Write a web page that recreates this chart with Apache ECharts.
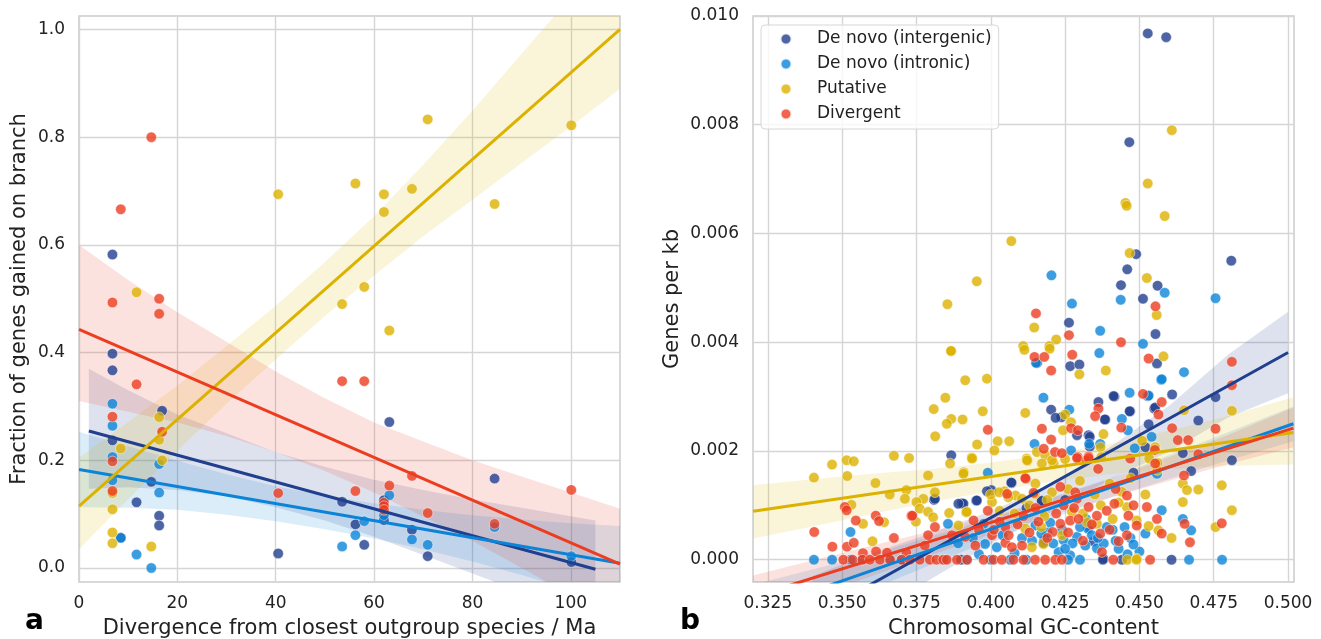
<!DOCTYPE html>
<html><head><meta charset="utf-8">
<script src="https://cdn.jsdelivr.net/npm/echarts@6/dist/echarts.min.js"></script>
<style>html,body{margin:0;padding:0;background:#fff}#c{width:1321px;height:639px}</style>
</head><body><div id="c"></div>
<script>
// ---------- tick labels ----------
const L_XTICKS = [0, 20, 40, 60, 80, 100];
const L_YTICKS = [0, 0.2, 0.4, 0.6, 0.8, 1.0];
const R_XTICKS = [0.325, 0.35, 0.375, 0.4, 0.425, 0.45, 0.475, 0.5];
const R_YTICKS = [0, 0.002, 0.004, 0.006, 0.008, 0.010];
const NAMES = ['De novo (intergenic)', 'De novo (intronic)', 'Putative', 'Divergent'];

// ---------- panel a: scatter values [Ma, fraction] ----------
const A_INTERGENIC = [[6.8,0.582],[6.8,0.398],[6.8,0.367],[6.8,0.237],[14.7,0.160],[11.7,0.122],[8.5,0.056],[16.3,0.097],[16.3,0.079],[16.9,0.292],[40.5,0.027],[53.5,0.123],[56.2,0.081],[58.0,0.043],[63.1,0.271],[62.0,0.126],[62.0,0.089],[67.7,0.071],[70.9,0.022],[84.5,0.166],[100.1,0.011]];
const A_INTRONIC = [[6.8,0.305],[6.8,0.264],[6.8,0.206],[6.8,0.163],[16.3,0.193],[16.3,0.140],[8.5,0.056],[11.7,0.025],[14.7,0.0],[53.5,0.040],[56.2,0.061],[58.0,0.087],[62.0,0.098],[63.1,0.135],[67.7,0.053],[70.9,0.043],[84.5,0.076],[100.1,0.022]];
const A_PUTATIVE = [[40.5,0.694],[56.2,0.714],[62.0,0.694],[62.0,0.661],[67.7,0.704],[70.9,0.833],[84.5,0.676],[100.1,0.822],[53.5,0.490],[58.0,0.522],[11.7,0.512],[63.1,0.441],[16.3,0.280],[16.3,0.238],[16.9,0.200],[8.5,0.222],[6.8,0.139],[6.8,0.109],[6.8,0.066],[6.8,0.046],[14.7,0.040]];
const A_DIVERGENT = [[14.7,0.800],[8.5,0.666],[6.8,0.493],[16.3,0.500],[16.3,0.472],[53.5,0.347],[58.0,0.347],[11.7,0.341],[6.8,0.281],[16.9,0.253],[6.8,0.198],[6.8,0.143],[40.5,0.139],[56.2,0.143],[63.1,0.153],[67.7,0.171],[62.0,0.121],[62.0,0.115],[62.0,0.108],[70.9,0.102],[84.5,0.082],[100.1,0.145]];

// ---------- panel a: regression lines [x,y] and bands [x, lower, upper] ----------
const A_LINE_INTERGENIC = [[2,0.2545],[105,-0.0024]];
const A_LINE_INTRONIC = [[0,0.183],[110,0.009]];
const A_LINE_PUTATIVE = [[0,0.115],[110,1.0]];
const A_LINE_DIVERGENT = [[0,0.443],[110,0.007]];
const A_BAND_INTERGENIC = [[2,0.147,0.370],[10,0.150,0.330],[20,0.145,0.285],[30,0.133,0.250],[40,0.113,0.215],[50,0.088,0.188],[60,0.058,0.164],[70,0.024,0.145],[80,-0.010,0.127],[90,-0.045,0.112],[105,-0.095,0.088]];
const A_BAND_INTRONIC = [[0,0.113,0.253],[10,0.112,0.226],[20,0.108,0.199],[30,0.099,0.174],[40,0.087,0.152],[50,0.072,0.134],[60,0.055,0.120],[70,0.035,0.108],[80,0.012,0.098],[90,-0.013,0.090],[100,-0.040,0.083],[110,-0.068,0.078]];
const A_BAND_PUTATIVE = [[0,0.035,0.205],[10,0.128,0.271],[20,0.218,0.339],[30,0.305,0.412],[40,0.387,0.487],[50,0.468,0.568],[60,0.543,0.653],[70,0.616,0.749],[80,0.684,0.849],[90,0.752,0.955],[100,0.820,1.060],[110,0.890,1.165]];
const A_BAND_DIVERGENT = [[0,0.310,0.600],[10,0.290,0.535],[20,0.270,0.475],[30,0.245,0.420],[40,0.215,0.365],[50,0.180,0.315],[60,0.140,0.270],[70,0.095,0.235],[80,0.050,0.200],[90,0.000,0.170],[100,-0.050,0.140],[110,-0.100,0.110]];

// ---------- panel b: scatter values [GC, genes per kb] ----------
const B_INTERGENIC = [[0.4528,0.00968],[0.4590,0.00961],[0.4466,0.00768],[0.4489,0.00562],[0.4459,0.00534],[0.4438,0.00505],[0.4561,0.00504],[0.4512,0.00480],[0.4809,0.00550],[0.4263,0.00436],[0.4267,0.00356],[0.4298,0.00359],[0.4559,0.00361],[0.4156,0.00362],[0.4203,0.00276],[0.4237,0.00262],[0.4218,0.00261],[0.4290,0.00229],[0.4362,0.00290],[0.4416,0.00300],[0.4413,0.00301],[0.4528,0.00301],[0.4385,0.00258],[0.4384,0.00258],[0.4469,0.00273],[0.4467,0.00273],[0.4329,0.00229],[0.4333,0.00226],[0.4333,0.00208],[0.4550,0.00278],[0.4553,0.00280],[0.4531,0.00249],[0.4520,0.00207],[0.4554,0.00415],[0.4610,0.00304],[0.4756,0.00299],[0.4698,0.00256],[0.4646,0.00196],[0.4811,0.00183],[0.4674,0.00163],[0.3867,0.00192],[0.3809,0.00110],[0.3903,0.00104],[0.3951,0.00109],[0.4002,0.00128],[0.4070,0.00141],[0.3812,0.00112],[0.3987,0.00126],[0.3908,0.00103],[0.3953,0.00109],[0.3891,0.00103],[0.4172,0.00109],[0.4171,0.00108],[0.4069,0.00142],[0.4180,0.00036],[0.4177,0.00031],[0.4346,0.00034],[0.4379,0.00002],[0.4441,0.00000],[0.4608,0.00000],[0.4377,0.00000],[0.3900,0.00000],[0.4480,0.00160],[0.4250,0.00110],[0.4330,0.00060],[0.4120,0.00095]];
const B_INTRONIC = [[0.4204,0.00523],[0.4273,0.00471],[0.4437,0.00478],[0.4585,0.00491],[0.4756,0.00481],[0.4368,0.00421],[0.4512,0.00397],[0.4365,0.00380],[0.4152,0.00362],[0.4573,0.00331],[0.4575,0.00332],[0.4177,0.00298],[0.4264,0.00276],[0.4467,0.00307],[0.4531,0.00302],[0.4441,0.00259],[0.4461,0.00238],[0.4147,0.00213],[0.4331,0.00213],[0.4368,0.00213],[0.4270,0.00201],[0.4541,0.00226],[0.4484,0.00205],[0.4559,0.00158],[0.4650,0.00345],[0.3990,0.00160],[0.4646,0.00075],[0.4674,0.00054],[0.4575,0.00091],[0.4520,0.00048],[0.3528,0.00051],[0.3856,0.00066],[0.3976,0.00066],[0.4150,0.00063],[0.4327,0.00057],[0.4290,0.00042],[0.4245,0.00036],[0.4318,0.00026],[0.4357,0.00021],[0.3981,0.00029],[0.4020,0.00023],[0.4228,0.00014],[0.4267,0.00008],[0.4105,0.00040],[0.4139,0.00035],[0.4190,0.00050],[0.4210,0.00030],[0.4240,0.00055],[0.4275,0.00030],[0.4300,0.00060],[0.4340,0.00045],[0.4380,0.00030],[0.4410,0.00055],[0.4430,0.00020],[0.4470,0.00040],[0.4500,0.00015],[0.4040,0.00045],[0.3940,0.00040],[0.3890,0.00030],[0.3960,0.00010],[0.4080,0.00012],[0.4320,0.00075],[0.4360,0.00040],[0.4390,0.00060],[0.4420,0.00035],[0.4450,0.00060],[0.4460,0.00010],[0.4480,0.00028],[0.4250,0.00020],[0.4200,0.00068],[0.4170,0.00048],[0.3405,0],[0.3466,0],[0.3528,0],[0.3568,0],[0.3661,0],[0.3700,0],[0.3845,0],[0.3920,0],[0.4000,0],[0.4065,0],[0.4120,0],[0.4260,0],[0.4300,0],[0.4667,0],[0.4778,0]];
const B_PUTATIVE = [[0.4609,0.00790],[0.4528,0.00692],[0.4453,0.00656],[0.4457,0.00651],[0.4585,0.00632],[0.4069,0.00586],[0.4467,0.00564],[0.4525,0.00518],[0.3953,0.00512],[0.3854,0.00470],[0.4558,0.00450],[0.4146,0.00427],[0.4220,0.00405],[0.4109,0.00393],[0.4197,0.00393],[0.3867,0.00384],[0.3914,0.00330],[0.3987,0.00333],[0.3847,0.00298],[0.3867,0.00259],[0.3905,0.00258],[0.3852,0.00250],[0.3973,0.00273],[0.3954,0.00212],[0.4023,0.00218],[0.4062,0.00218],[0.4012,0.00201],[0.3936,0.00188],[0.4116,0.00270],[0.4113,0.00386],[0.4198,0.00388],[0.4298,0.00341],[0.4387,0.00348],[0.4581,0.00374],[0.4250,0.00267],[0.4270,0.00253],[0.4243,0.00238],[0.4379,0.00231],[0.4509,0.00219],[0.4553,0.00207],[0.4369,0.00207],[0.4121,0.00186],[0.4155,0.00198],[0.4183,0.00192],[0.4123,0.00182],[0.4211,0.00177],[0.4561,0.00178],[0.3466,0.00175],[0.3515,0.00183],[0.3539,0.00181],[0.3517,0.00154],[0.3405,0.00151],[0.3674,0.00191],[0.3725,0.00187],[0.3612,0.00141],[0.3660,0.00120],[0.3716,0.00128],[0.3711,0.00112],[0.3773,0.00112],[0.3789,0.00155],[0.3812,0.00124],[0.3750,0.00106],[0.3761,0.00094],[0.3789,0.00088],[0.3806,0.00078],[0.3531,0.00101],[0.3570,0.00066],[0.3641,0.00069],[0.3748,0.00070],[0.3602,0.00034],[0.3808,0.00277],[0.3813,0.00227],[0.3866,0.00384],[0.3937,0.00186],[0.3909,0.00161],[0.3863,0.00177],[0.3908,0.00158],[0.4122,0.00183],[0.4172,0.00177],[0.4206,0.00183],[0.4372,0.00189],[0.4533,0.00186],[0.4046,0.00126],[0.4083,0.00118],[0.4105,0.00112],[0.4004,0.00106],[0.4000,0.00120],[0.4028,0.00124],[0.4059,0.00115],[0.4148,0.00121],[0.3917,0.00087],[0.3860,0.00086],[0.3919,0.00088],[0.3891,0.00063],[0.4116,0.00057],[0.4177,0.00029],[0.4138,0.00023],[0.4206,0.00124],[0.4273,0.00088],[0.4323,0.00069],[0.4357,0.00066],[0.4458,0.00097],[0.4491,0.00072],[0.4531,0.00062],[0.4564,0.00054],[0.4491,0.00002],[0.4459,0],[0.4490,0],[0.4650,0.00275],[0.4811,0.00274],[0.4777,0.00137],[0.4646,0.00140],[0.4660,0.00128],[0.4698,0.00129],[0.4646,0.00106],[0.4608,0.00040],[0.4756,0.00060],[0.4811,0.00091],[0.4250,0.00185],[0.4300,0.00145],[0.4350,0.00120],[0.4400,0.00140],[0.4430,0.00105],[0.4470,0.00150],[0.4520,0.00120],[0.4560,0.00165],[0.4180,0.00080],[0.4240,0.00045],[0.4150,0.00140],[0.4130,0.00100],[0.4190,0.00110],[0.4260,0.00130],[0.4310,0.00085],[0.4370,0.00100],[0.4410,0.00075],[0.4440,0.00125],[0.4080,0.00085],[0.4030,0.00090],[0.4170,0.00060]];
const B_DIVERGENT = [[0.4554,0.00466],[0.4152,0.00453],[0.4263,0.00413],[0.4438,0.00400],[0.4147,0.00373],[0.4180,0.00373],[0.4203,0.00348],[0.4274,0.00377],[0.4531,0.00370],[0.3990,0.00239],[0.4172,0.00241],[0.4203,0.00221],[0.4178,0.00204],[0.4216,0.00198],[0.4270,0.00242],[0.4293,0.00238],[0.4512,0.00305],[0.4362,0.00278],[0.4351,0.00264],[0.4439,0.00243],[0.4329,0.00190],[0.4239,0.00196],[0.4292,0.00189],[0.4321,0.00183],[0.4361,0.00167],[0.4552,0.00202],[0.4564,0.00267],[0.4575,0.00290],[0.4756,0.00241],[0.4811,0.00364],[0.4811,0.00321],[0.4610,0.00242],[0.4629,0.00220],[0.4664,0.00220],[0.4698,0.00194],[0.4650,0.00155],[0.4777,0.00067],[0.4652,0.00066],[0.4670,0.00032],[0.4575,0.00048],[0.3406,0.00051],[0.3467,0.00024],[0.3516,0.00024],[0.3509,0.00097],[0.3515,0.00091],[0.3546,0.00072],[0.3613,0.00081],[0.3624,0.00071],[0.3733,0.00081],[0.3736,0.00081],[0.3539,0.00031],[0.3674,0.00040],[0.3812,0.00060],[0.3789,0.00045],[0.3778,0.00026],[0.3570,0.00012],[0.3614,0.00015],[0.3651,0.00013],[0.3716,0.00013],[0.4290,0.00187],[0.4329,0.00187],[0.4469,0.00186],[0.4553,0.00177],[0.4118,0.00149],[0.4116,0.00150],[0.4055,0.00121],[0.4144,0.00123],[0.4284,0.00124],[0.3942,0.00072],[0.4004,0.00045],[0.4049,0.00060],[0.4105,0.00026],[0.4208,0.00051],[0.4234,0.00066],[0.4267,0.00072],[0.4295,0.00075],[0.4234,0.00134],[0.4290,0.00112],[0.4245,0.00100],[0.4329,0.00097],[0.4357,0.00081],[0.4368,0.00048],[0.4416,0.00103],[0.4463,0.00081],[0.4491,0.00063],[0.4458,0.00045],[0.4430,0.00034],[0.4559,0.00075],[0.4525,0.00097],[0.4458,0.00118],[0.3869,0.00045],[0.3914,0.00042],[0.3948,0.00026],[0.4049,0.00031],[0.4071,0.00023],[0.4374,0.00014],[0.4010,0.00055],[0.4030,0.00070],[0.4060,0.00045],[0.4090,0.00065],[0.4130,0.00050],[0.4160,0.00070],[0.4190,0.00040],[0.4220,0.00085],[0.4260,0.00050],[0.4280,0.00095],[0.4310,0.00035],[0.4340,0.00065],[0.4390,0.00090],[0.4400,0.00055],[0.4420,0.00130],[0.4480,0.00100],[0.4150,0.00095],[0.4110,0.00080],[0.3960,0.00055],[0.3990,0.00090],[0.4536,0],[0.4412,0],[0.3504,0],[0.3535,0],[0.3568,0],[0.3593,0],[0.3627,0],[0.3661,0],[0.3700,0],[0.3728,0],[0.3761,0],[0.3795,0],[0.3817,0],[0.3840,0],[0.3852,0],[0.3886,0],[0.3920,0],[0.3976,0],[0.4009,0],[0.4037,0],[0.4076,0],[0.4110,0],[0.4149,0],[0.4183,0],[0.4217,0],[0.4239,0]];

// ---------- panel b: regression lines and bands ----------
const B_LINE_INTERGENIC = [[0.34,-0.00105],[0.50,0.00381]];
const B_LINE_INTRONIC = [[0.32,-0.00096],[0.5018,0.00250]];
const B_LINE_PUTATIVE = [[0.32,0.00089],[0.5018,0.00234]];
const B_LINE_DIVERGENT = [[0.32,-0.00068],[0.5018,0.00242]];
const B_BAND_INTERGENIC = [[0.34,-0.00180,-0.00030],[0.36,-0.00104,0.00012],[0.38,-0.00035,0.00049],[0.40,0.00029,0.00089],[0.42,0.00087,0.00137],[0.44,0.00147,0.00207],[0.46,0.00199,0.00283],[0.48,0.00262,0.00378],[0.50,0.00306,0.00456]];
const B_BAND_INTRONIC = [[0.32,-0.00146,-0.00046],[0.36,-0.00054,0.00010],[0.40,0.00036,0.00076],[0.44,0.00114,0.00150],[0.48,0.00183,0.00235],[0.5018,0.00218,0.00282]];
const B_BAND_PUTATIVE = [[0.32,0.00039,0.00137],[0.34,0.00061,0.00148],[0.36,0.00084,0.00158],[0.38,0.00106,0.00167],[0.40,0.00126,0.00179],[0.42,0.00143,0.00194],[0.44,0.00157,0.00213],[0.46,0.00167,0.00237],[0.48,0.00173,0.00265],[0.5018,0.00175,0.00299]];
const B_BAND_DIVERGENT = [[0.32,-0.00107,-0.00029],[0.36,-0.00030,0.00026],[0.40,0.00047,0.00079],[0.44,0.00114,0.00148],[0.48,0.00176,0.00230],[0.5018,0.00207,0.00280]];

// ---------- styling ----------
const FONT = 'DejaVu Sans';
const TXT = '#222';
const LINE_COLORS = ['#213f8f', '#0b84d8', '#dcb200', '#ec3d20'];
const BAND_COLORS = ['rgba(33,63,143,0.15)', 'rgba(11,132,216,0.15)', 'rgba(220,178,0,0.15)', 'rgba(236,61,32,0.15)'];

function scatter(name, data, i, ax) {
  return { type: 'scatter', name: name, xAxisIndex: ax, yAxisIndex: ax, data: data, symbolSize: 10.5, z: 2,
    itemStyle: { color: LINE_COLORS[i], opacity: 0.8, borderColor: '#ffffff', borderWidth: 0.6 },
    silent: true, clip: true };
}
function band(data, i, ax) {
  return { type: 'custom', xAxisIndex: ax, yAxisIndex: ax, data: data, z: 2, silent: true, clip: true,
    renderItem: function (params, api) {
      if (params.dataIndex !== 0) return;
      const up = data.map(d => api.coord([d[0], d[2]]));
      const lo = data.map(d => api.coord([d[0], d[1]])).reverse();
      const cs = params.coordSys;
      return { type: 'polygon', shape: { points: up.concat(lo) }, style: { fill: BAND_COLORS[i] },
        clipPath: { type: 'rect', shape: { x: cs.x, y: cs.y, width: cs.width, height: cs.height } } };
    } };
}
function line(data, i, ax) {
  return { type: 'line', xAxisIndex: ax, yAxisIndex: ax, data: data, showSymbol: false, symbol: 'none', z: 3,
    lineStyle: { color: LINE_COLORS[i], width: 3 }, silent: true, clip: true };
}

const A_SC = [A_INTERGENIC, A_INTRONIC, A_PUTATIVE, A_DIVERGENT];
const A_BD = [A_BAND_INTERGENIC, A_BAND_INTRONIC, A_BAND_PUTATIVE, A_BAND_DIVERGENT];
const A_LN = [A_LINE_INTERGENIC, A_LINE_INTRONIC, A_LINE_PUTATIVE, A_LINE_DIVERGENT];
const B_SC = [B_INTERGENIC, B_INTRONIC, B_PUTATIVE, B_DIVERGENT];
const B_BD = [B_BAND_INTERGENIC, B_BAND_INTRONIC, B_BAND_PUTATIVE, B_BAND_DIVERGENT];
const B_LN = [B_LINE_INTERGENIC, B_LINE_INTRONIC, B_LINE_PUTATIVE, B_LINE_DIVERGENT];

const series = [];
for (let i = 0; i < 4; i++) { series.push(scatter(NAMES[i], A_SC[i], i, 0)); series.push(band(A_BD[i], i, 0)); }
for (let i = 0; i < 4; i++) { series.push(scatter(NAMES[i], B_SC[i], i, 1)); series.push(band(B_BD[i], i, 1)); }
for (let i = 0; i < 4; i++) { series.push(line(A_LN[i], i, 0)); series.push(line(B_LN[i], i, 1)); }

const gridLine = { show: true, lineStyle: { color: '#d5d5d5', width: 1.4 } };
const lab = (vals, dec, margin) => ({ customValues: vals, formatter: v => Number(v).toFixed(dec), fontSize: 17, color: TXT, fontFamily: FONT, margin: margin });
const nameStyle = { fontSize: 21, color: TXT, fontFamily: FONT };

function xAx(idx, min, max, ticks, dec, name) {
  return { type: 'value', gridIndex: idx, min: min, max: max, axisLine: { show: false },
    axisTick: { show: false, customValues: ticks }, axisLabel: lab(ticks, dec, 13), splitLine: gridLine,
    name: name, nameLocation: 'middle', nameGap: 36, nameTextStyle: nameStyle };
}
function yAx(idx, min, max, ticks, dec, name, gap) {
  return { type: 'value', gridIndex: idx, min: min, max: max, axisLine: { show: false },
    axisTick: { show: false, customValues: ticks }, axisLabel: lab(ticks, dec, 14), splitLine: gridLine,
    name: name, nameLocation: 'middle', nameGap: gap, nameTextStyle: nameStyle };
}

const chart = echarts.init(document.getElementById('c'), null, { renderer: 'canvas' });
chart.setOption({
  animation: false,
  textStyle: { fontFamily: FONT },
  grid: [
    { left: 79, top: 16, width: 541, height: 566, show: true, borderColor: '#cccccc', borderWidth: 1.5, backgroundColor: 'rgba(0,0,0,0)', containLabel: false, outerBoundsMode: 'none' },
    { left: 753, top: 16, width: 541, height: 566, show: true, borderColor: '#cccccc', borderWidth: 1.5, backgroundColor: 'rgba(0,0,0,0)', containLabel: false, outerBoundsMode: 'none' }
  ],
  xAxis: [
    xAx(0, 0, 110, L_XTICKS, 0, 'Divergence from closest outgroup species / Ma'),
    xAx(1, 0.32, 0.502, R_XTICKS, 3, 'Chromosomal GC-content')
  ],
  yAxis: [
    yAx(0, -0.026, 1.025, L_YTICKS, 1, 'Fraction of genes gained on branch', 49),
    yAx(1, -0.00041, 0.010, R_YTICKS, 3, 'Genes per kb', 70)
  ],
  legend: {
    data: NAMES, left: 761, top: 25, orient: 'vertical', icon: 'circle', itemWidth: 11, itemHeight: 11, itemGap: 5,
    padding: [4, 7, 5, 18.5], backgroundColor: 'rgba(255,255,255,0.8)', borderColor: '#d6d6d6', borderWidth: 1, borderRadius: 4,
    formatter: n => '{s|\u00a0}' + n,
    textStyle: { fontSize: 17, color: TXT, fontFamily: FONT, lineHeight: 20, rich: { s: { width: 20.5, fontSize: 17, lineHeight: 20 } } },
    selectedMode: false, z: 10
  },
  graphic: [
    { type: 'text', x: 25, y: 622, style: { text: 'a', font: 'bold 28px "DejaVu Sans"', fill: '#000', verticalAlign: 'middle' }, z: 10 },
    { type: 'text', x: 680, y: 622, style: { text: 'b', font: 'bold 28px "DejaVu Sans"', fill: '#000', verticalAlign: 'middle' }, z: 10 }
  ],
  series: series
});
</script></body></html>
